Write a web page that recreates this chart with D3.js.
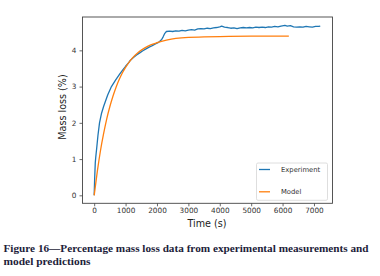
<!DOCTYPE html>
<html>
<head>
<meta charset="utf-8">
<script src="https://cdn.jsdelivr.net/npm/d3@7"></script>
<style>
  body { margin: 0; background: #fff; }
  svg { display: block; }
</style>
</head>
<body>
<svg id="drawing_region"></svg>
<script>
// experiment: time (s) and mass loss (%)
const expTime = [0, 15, 35, 50, 80, 120, 170, 230, 300, 430, 550, 680, 800, 900, 1000, 1100, 1155, 1250, 1350, 1450, 1550, 1650, 1750, 1850, 1950, 2050, 2100, 2150, 2200, 2250, 2300, 2400, 2500, 2600, 2700, 2800, 2900, 3000, 3100, 3200, 3300, 3400, 3500, 3600, 3700, 3800, 3900, 4000, 4060, 4150, 4250, 4350, 4450, 4550, 4650, 4750, 4850, 4950, 5050, 5150, 5250, 5350, 5450, 5550, 5650, 5750, 5850, 5950, 6075, 6150, 6250, 6350, 6450, 6550, 6650, 6750, 6850, 6950, 7050, 7150, 7200];
const expLoss = [0, 0.45, 0.9, 1.05, 1.3, 1.65, 2.0, 2.25, 2.45, 2.77, 3.0, 3.18, 3.33, 3.45, 3.56, 3.66, 3.73, 3.8, 3.87, 3.93, 3.99, 4.04, 4.09, 4.13, 4.18, 4.22, 4.26, 4.3, 4.38, 4.47, 4.52, 4.53, 4.52, 4.54, 4.53, 4.55, 4.54, 4.56, 4.57, 4.56, 4.59, 4.6, 4.59, 4.61, 4.6, 4.62, 4.63, 4.65, 4.67, 4.64, 4.63, 4.61, 4.62, 4.6, 4.62, 4.63, 4.62, 4.63, 4.62, 4.64, 4.63, 4.64, 4.63, 4.65, 4.64, 4.66, 4.65, 4.67, 4.69, 4.67, 4.68, 4.65, 4.64, 4.65, 4.64, 4.66, 4.65, 4.64, 4.66, 4.66, 4.67];

// model prediction
const modelTime = [0, 100, 200, 300, 400, 500, 600, 700, 800, 900, 1000, 1200, 1400, 1600, 1800, 2000, 2300, 2600, 3000, 3500, 4000, 5000, 6200];
const modelLoss = [0, 0.66, 1.23, 1.7, 2.11, 2.45, 2.74, 2.99, 3.2, 3.38, 3.53, 3.77, 3.94, 4.06, 4.15, 4.21, 4.28, 4.33, 4.36, 4.37, 4.38, 4.39, 4.39];

const xTicks = [0, 1000, 2000, 3000, 4000, 5000, 6000, 7000];
const yTicks = [0, 1, 2, 3, 4];

const seriesNames = ["Experiment", "Model"];
const seriesColors = ["#1f77b4", "#ff7f0e"];

const caption = [
    "Figure 16\u2014Percentage mass loss data from experimental measurements and",
    "model predictions"
];

const W = 380, H = 276;
const plot = { left: 82.5, right: 332.5, top: 17, bottom: 203.3 };

const svg = d3.select("#drawing_region")
    .attr("width", W)
    .attr("height", H);

const xscale = d3.scaleLinear()
    .domain([-372, 7590])
    .range([plot.left, plot.right]);

const yscale = d3.scaleLinear()
    .domain([-0.22, 4.92])
    .range([plot.bottom, plot.top]);

const tickFont = "DejaVu Sans, sans-serif";

// axes
const xaxis = d3.axisBottom(xscale).tickValues(xTicks).tickSize(3).tickPadding(2).tickFormat(d3.format("d"));
const yaxis = d3.axisLeft(yscale).tickValues(yTicks).tickSize(3).tickPadding(3).tickFormat(d3.format("d"));

const gx = svg.append("g")
    .attr("transform", `translate(0, ${plot.bottom})`)
    .call(xaxis);
const gy = svg.append("g")
    .attr("transform", `translate(${plot.left}, 0)`)
    .call(yaxis);

[gx, gy].forEach(g => {
    g.select(".domain").remove();
    g.selectAll("line").attr("stroke", "#444").attr("stroke-width", 0.8);
    g.selectAll("text")
        .attr("fill", "#333")
        .attr("font-family", tickFont)
        .attr("font-size", "7.3px");
});

// data lines
const line = d3.line()
    .x(d => xscale(d[0]))
    .y(d => yscale(d[1]));

const expData = expTime.map((t, i) => [t, expLoss[i]]);
const modelData = modelTime.map((t, i) => [t, modelLoss[i]]);

svg.append("path")
    .datum(expData)
    .attr("fill", "none")
    .attr("stroke", seriesColors[0])
    .attr("stroke-width", 1.3)
    .attr("stroke-linejoin", "round")
    .attr("d", line);

svg.append("path")
    .datum(modelData)
    .attr("fill", "none")
    .attr("stroke", seriesColors[1])
    .attr("stroke-width", 1.3)
    .attr("d", line.curve(d3.curveMonotoneX));

// frame
svg.append("rect")
    .attr("x", plot.left)
    .attr("y", plot.top)
    .attr("width", plot.right - plot.left)
    .attr("height", plot.bottom - plot.top)
    .attr("fill", "none")
    .attr("stroke", "#444")
    .attr("stroke-width", 0.9);

// axis labels
svg.append("text")
    .attr("x", 207)
    .attr("y", 227)
    .attr("text-anchor", "middle")
    .attr("font-family", tickFont)
    .attr("font-size", "9.6px")
    .attr("fill", "#222")
    .text("Time (s)");

svg.append("text")
    .attr("transform", "translate(66, 107) rotate(-90)")
    .attr("text-anchor", "middle")
    .attr("font-family", tickFont)
    .attr("font-size", "9.6px")
    .attr("fill", "#222")
    .text("Mass loss (%)");

// legend
const legend = svg.append("g");
legend.append("rect")
    .attr("x", 256.5)
    .attr("y", 163)
    .attr("width", 71)
    .attr("height", 37.3)
    .attr("rx", 1.5)
    .attr("fill", "#fff")
    .attr("stroke", "#d6d6d6")
    .attr("stroke-width", 0.8);

const legendY = [169.5, 191.8];
seriesNames.forEach((name, i) => {
    legend.append("line")
        .attr("x1", 259).attr("x2", 270)
        .attr("y1", legendY[i]).attr("y2", legendY[i])
        .attr("stroke", seriesColors[i])
        .attr("stroke-width", 1.3);
    legend.append("text")
        .attr("x", 281)
        .attr("y", legendY[i])
        .attr("dy", "0.35em")
        .attr("font-family", tickFont)
        .attr("font-size", "6.8px")
        .attr("fill", "#333")
        .text(name);
});

// caption
const capWidths = [365, 87];
const capY = [251.5, 264.5];
caption.forEach((c, i) => {
    svg.append("text")
        .attr("x", 3.5)
        .attr("y", capY[i])
        .attr("font-family", "Liberation Serif, serif")
        .attr("font-weight", "bold")
        .attr("font-size", "10.5px")
        .attr("fill", "#1d1d3a")
        .attr("textLength", capWidths[i])
        .attr("lengthAdjust", "spacingAndGlyphs")
        .text(c);
});
</script>
</body>
</html>
